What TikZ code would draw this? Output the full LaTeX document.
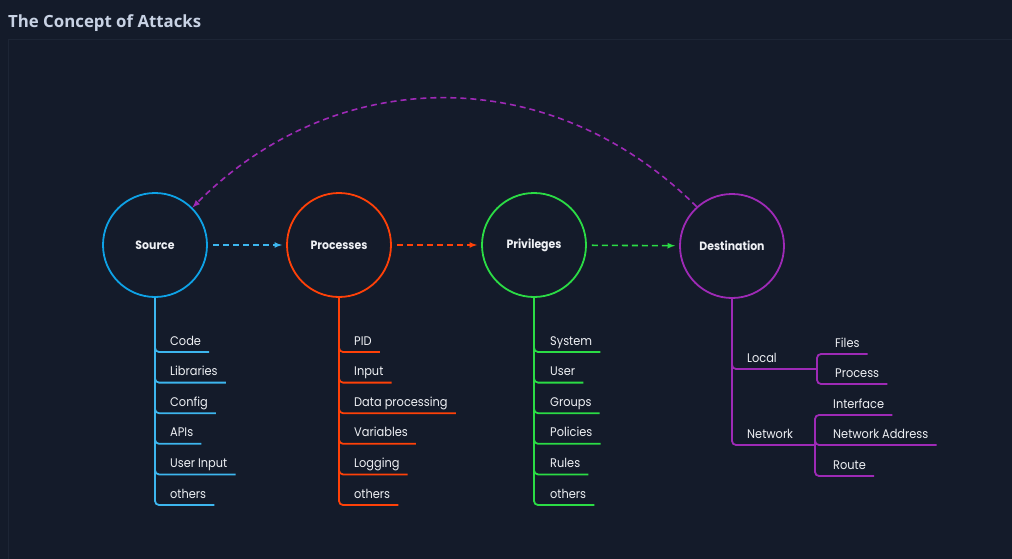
\documentclass[tikz,border=0pt]{standalone}
\usepackage{fontspec}
\setmainfont{Poppins}[FakeStretch=0.91]
\newfontfamily\titlefont{Open Sans}
\usepackage{tikz}
\usetikzlibrary{positioning}

\definecolor{bg}{HTML}{141B2A}
\definecolor{panel}{HTML}{1D2535}
\definecolor{ttl}{HTML}{C8D2E4}
\definecolor{txt}{HTML}{EEF0F4}
\definecolor{srcc}{HTML}{0EA2E6}
\definecolor{srcl}{HTML}{3DB6EE}
\definecolor{procc}{HTML}{FF4108}
\definecolor{privc}{HTML}{2BDC45}
\definecolor{dstc}{HTML}{9E2AB6}

\begin{document}
\begin{tikzpicture}[x=1pt, y=-1pt, >=latex,
    circ/.style={draw, circle, line width=1.8pt, minimum size=104pt, inner sep=0pt, text=txt, font=\fontsize{12}{14}\selectfont\bfseries},
    item/.style={anchor=base west, inner sep=0pt, text=txt, font=\fontsize{12.5}{14}\selectfont},
    flow/.style={->, line width=1.6pt, dash pattern=on 6pt off 4pt, shorten <=5pt, shorten >=4pt},
    branch/.style={line width=1.8pt, rounded corners=4pt}]
      \fill[bg] (0,0) rectangle (1012,559);
      \useasboundingbox (0,0) rectangle (1012,559);
      \draw[panel, line width=0.8pt] (1012,39) -- (8,39) -- (8,559);
      \node[anchor=base west, inner sep=0pt, text=ttl, font=\titlefont\bfseries\fontsize{16.8}{20}\selectfont] (title) at (8,28) {The Concept of Attacks};

      % the four stages
      \node[circ, draw=srcc] (src) at (155,245) {Source};
      \node[circ, draw=procc] (proc) at (339,245) {Processes};
      \node[circ, draw=privc] (priv) at (534,245) {Privileges};
      \node[circ, draw=dstc] (dst) at (732,246) {Destination};
      \draw[flow, srcl] (src) -- (proc);
      \draw[flow, procc] (proc) -- (priv);
      \draw[flow, privc] (priv) -- (dst);
      \draw[flow, dstc, shorten <=0pt, shorten >=0pt] (dst.132) .. controls (552,62) and (337,62) .. (src.45);

      % source
      \node[item] (s1) at (170,345) {Code};
      \node[item] (s2) at (170,375.6) {Libraries};
      \node[item] (s3) at (170,406.2) {Config};
      \node[item] (s4) at (170,436.8) {APIs};
      \node[item] (s5) at (170,467.4) {User Input};
      \node[item] (s6) at (170,498) {others};
      \draw[branch, srcl] (src.south) |- ([shift={(8,7)}]s1.base east);
      \draw[branch, srcl] (src.south) |- ([shift={(8,7)}]s2.base east);
      \draw[branch, srcl] (src.south) |- ([shift={(8,7)}]s3.base east);
      \draw[branch, srcl] (src.south) |- ([shift={(8,7)}]s4.base east);
      \draw[branch, srcl] (src.south) |- ([shift={(8,7)}]s5.base east);
      \draw[branch, srcl] (src.south) |- ([shift={(8,7)}]s6.base east);

      % processes
      \node[item] (p1) at (354,345) {PID};
      \node[item] (p2) at (354,375.6) {Input};
      \node[item] (p3) at (354,406.2) {Data processing};
      \node[item] (p4) at (354,436.8) {Variables};
      \node[item] (p5) at (354,467.4) {Logging};
      \node[item] (p6) at (354,498) {others};
      \draw[branch, procc] (proc.south) |- ([shift={(8,7)}]p1.base east);
      \draw[branch, procc] (proc.south) |- ([shift={(8,7)}]p2.base east);
      \draw[branch, procc] (proc.south) |- ([shift={(8,7)}]p3.base east);
      \draw[branch, procc] (proc.south) |- ([shift={(8,7)}]p4.base east);
      \draw[branch, procc] (proc.south) |- ([shift={(8,7)}]p5.base east);
      \draw[branch, procc] (proc.south) |- ([shift={(8,7)}]p6.base east);

      % privileges
      \node[item] (r1) at (550,345) {System};
      \node[item] (r2) at (550,375.6) {User};
      \node[item] (r3) at (550,406.2) {Groups};
      \node[item] (r4) at (550,436.8) {Policies};
      \node[item] (r5) at (550,467.4) {Rules};
      \node[item] (r6) at (550,498) {others};
      \draw[branch, privc] (priv.south) |- ([shift={(8,7)}]r1.base east);
      \draw[branch, privc] (priv.south) |- ([shift={(8,7)}]r2.base east);
      \draw[branch, privc] (priv.south) |- ([shift={(8,7)}]r3.base east);
      \draw[branch, privc] (priv.south) |- ([shift={(8,7)}]r4.base east);
      \draw[branch, privc] (priv.south) |- ([shift={(8,7)}]r5.base east);
      \draw[branch, privc] (priv.south) |- ([shift={(8,7)}]r6.base east);

      % destination
      \node[item] (loc) at (747,362) {Local};
      \node[item] (net) at (747,438) {Network};
      \coordinate (lj) at (817,369);
      \coordinate (nj) at (815,445);
      \node[item] (files) at (835,347) {Files};
      \node[item] (prc) at (835,377) {Process};
      \node[item] (ifc) at (833,408) {Interface};
      \node[item] (addr) at (833,438) {Network Address};
      \node[item] (route) at (833,469) {Route};
      \draw[branch, dstc] (dst.south) |- (lj);
      \draw[branch, dstc] (dst.south) |- (nj);
      \draw[branch, dstc] (lj) |- ([shift={(8,7)}]files.base east);
      \draw[branch, dstc] (lj) |- ([shift={(8,7)}]prc.base east);
      \draw[branch, dstc] (nj) |- ([shift={(8,7)}]ifc.base east);
      \draw[branch, dstc] (nj) |- ([shift={(8,7)}]addr.base east);
      \draw[branch, dstc] (nj) |- ([shift={(8,7)}]route.base east);
\end{tikzpicture}
\end{document}
